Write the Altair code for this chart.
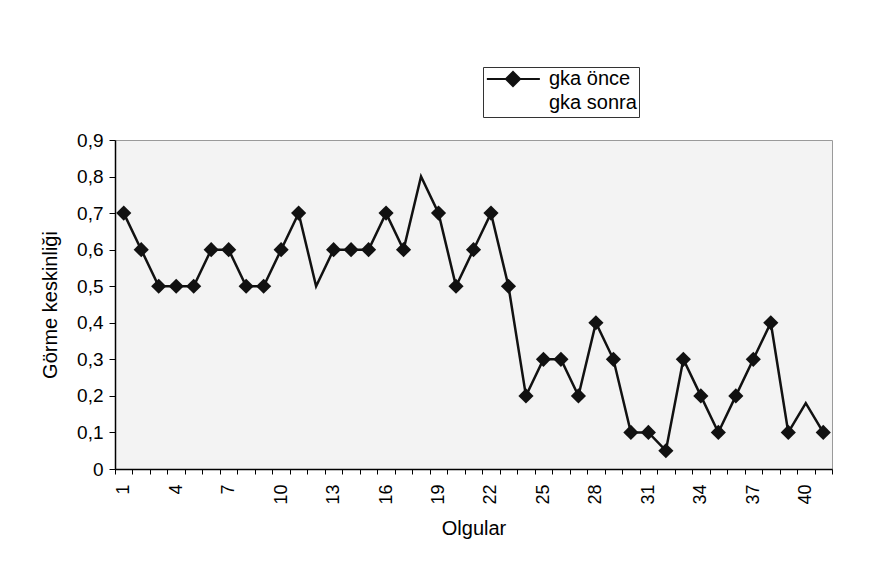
import altair as alt
import pandas as pd

# ---- data ----
olgular = list(range(1, 42))
gka_once = [0.7, 0.6, 0.5, 0.5, 0.5, 0.6, 0.6, 0.5, 0.5, 0.6,
            0.7, 0.5, 0.6, 0.6, 0.6, 0.7, 0.6, 0.8, 0.7, 0.5,
            0.6, 0.7, 0.5, 0.2, 0.3, 0.3, 0.2, 0.4, 0.3, 0.1,
            0.1, 0.05, 0.3, 0.2, 0.1, 0.2, 0.3, 0.4, 0.1, 0.18,
            0.1]
isaretsiz = [12, 18, 40]          # cases drawn without a visible marker
seriler = ["gka önce", "gka sonra"]
x_etiketleri = list(range(1, 42, 3))
y_degerleri = [0, 0.1, 0.2, 0.3, 0.4, 0.5, 0.6, 0.7, 0.8, 0.9]

df = pd.DataFrame({
    "olgu": olgular,
    "deger": gka_once,
    "seri": seriler[0],
    "isaret": [o not in isaretsiz for o in olgular],
})

FONT = "Liberation Sans"
INK = "#111111"
legend_path = "M-3.7,0L3.8,0M-1,0L0,-1L1,0L0,1Z"

legend = alt.Legend(
    title=None, orient="none", legendX=368, legendY=-73,
    symbolType=legend_path, symbolSize=200, symbolStrokeWidth=2,
    symbolOffset=18, labelOffset=26,
    labelFont=FONT, labelFontSize=20, labelColor="black",
    strokeColor="#333333", fillColor="white", padding=2, rowPadding=0,
    cornerRadius=0,
)

xscale = alt.Scale(domain=[0.5, 41.5], nice=False, zero=False)
yscale = alt.Scale(domain=[0, 0.9], nice=False)

yaxis = alt.Axis(
    values=y_degerleri, grid=False, tickSize=6, tickColor="black",
    domainColor="black", domainWidth=1.5, labelOverlap=False,
    labelExpr="datum.value == 0 ? '0' : replace(format(datum.value, '.1f'), '.', ',')",
    labelFont=FONT, labelFontSize=19, labelColor="black", labelPadding=6,
    title="Görme keskinliği", titleFont=FONT, titleFontSize=20,
    titleFontWeight="normal", titleColor="black", titlePadding=16,
)

tick_axis = alt.Axis(
    orient="bottom", values=[i + 0.5 for i in range(0, 42)], labels=False,
    grid=False, tickSize=5, tickColor="black", domainColor="black",
    domainWidth=1.5, title=None,
)
label_axis = alt.Axis(
    orient="bottom", values=x_etiketleri, ticks=False, domain=False,
    grid=False, labelAngle=270, labelFont=FONT, labelFontSize=18,
    labelColor="black", labelPadding=15, labelOverlap=False,
    title="Olgular", titleFont=FONT, titleFontSize=20,
    titleFontWeight="normal", titleColor="black", titlePadding=14,
)

line = alt.Chart(df).mark_line(strokeWidth=2.5).encode(
    x=alt.X("olgu:Q", scale=xscale, axis=tick_axis),
    y=alt.Y("deger:Q", scale=yscale, axis=yaxis),
    stroke=alt.Stroke("seri:N", scale=alt.Scale(domain=seriler, range=[INK, "white"]),
                      legend=legend),
)

points = alt.Chart(df).transform_filter("datum.isaret").mark_point(
    shape="diamond", filled=True, size=230, opacity=1
).encode(
    x=alt.X("olgu:Q", scale=xscale, axis=label_axis),
    y=alt.Y("deger:Q", scale=yscale, axis=yaxis),
    fill=alt.Fill("seri:N", scale=alt.Scale(domain=seriler, range=[INK, "white"]),
                  legend=legend),
)

chart = alt.layer(line, points).resolve_axis(x="independent").properties(
    width=717, height=329,
    autosize=alt.AutoSizeParams(type="none"),
    padding={"left": 115, "top": 140, "right": 58, "bottom": 99},
    background="white",
).configure_view(
    stroke="#9a9a9a", strokeWidth=1, fill="#f3f3f3",
)

chart.save("out.html", embed_options={"renderer": "svg", "actions": False})
